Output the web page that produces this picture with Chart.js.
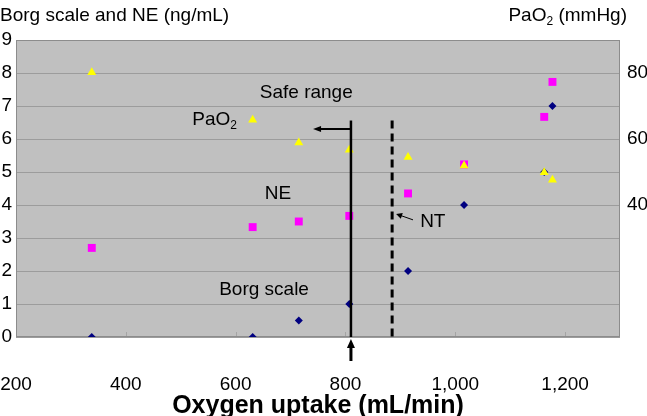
<!DOCTYPE html>
<html>
<head>
<meta charset="utf-8">
<script src="https://cdn.jsdelivr.net/npm/chart.js@4/dist/chart.umd.min.js"></script>
<style>
  html, body { margin: 0; padding: 0; background: #fff; }
  canvas { display: block; }
</style>
</head>
<body>
<canvas id="chart" width="647" height="416"></canvas>
<script>
// values
const oxygenUptake = [338, 631, 715, 807, 914, 1016, 1162, 1177];
const borgScale = [0, 0, 0.5, 1, 2, 4, 5, 7];
const noradrenaline = [2.7, 3.33, 3.5, 3.67, 4.35, 5.23, 6.67, 7.73];
const pao2 = [80.2, 65.8, 58.9, 56.7, 54.5, 51.9, 49.9, 47.6];

const xTicks = [200, 400, 600, 800, 1000, 1200];
const pao2Ticks = [40, 60, 80];

const safeRangeX = 810;
const ntX = 885;

const FONT = '"Liberation Sans", Arial, sans-serif';

const points = (ys) => oxygenUptake.map((x, i) => ({ x: x, y: ys[i] }));

function arrow(ctx, x1, y1, x2, y2, len, half, width) {
    const a = Math.atan2(y2 - y1, x2 - x1);
    ctx.save();
    ctx.lineWidth = width;
    ctx.beginPath();
    ctx.moveTo(x1, y1);
    ctx.lineTo(x2 - Math.cos(a) * len * 0.6, y2 - Math.sin(a) * len * 0.6);
    ctx.stroke();
    ctx.translate(x2, y2);
    ctx.rotate(a);
    ctx.beginPath();
    ctx.moveTo(0, 0);
    ctx.lineTo(-len, -half);
    ctx.lineTo(-len, half);
    ctx.closePath();
    ctx.fill();
    ctx.restore();
}

// text with a subscript part: [main, sub, rest]
function subText(ctx, parts, x, y, size, align) {
    ctx.save();
    ctx.textBaseline = 'middle';
    ctx.textAlign = 'left';
    ctx.font = size + 'px ' + FONT;
    const w1 = ctx.measureText(parts[0]).width;
    const w3 = ctx.measureText(parts[2]).width;
    ctx.font = Math.round(size * 0.62) + 'px ' + FONT;
    const w2 = ctx.measureText(parts[1]).width;
    let sx = align === 'right' ? x - (w1 + w2 + w3) : x;
    ctx.font = size + 'px ' + FONT;
    ctx.fillText(parts[0], sx, y);
    ctx.font = Math.round(size * 0.62) + 'px ' + FONT;
    ctx.fillText(parts[1], sx + w1, y + size * 0.32);
    ctx.font = size + 'px ' + FONT;
    ctx.fillText(parts[2], sx + w1 + w2, y);
    ctx.restore();
}

const plotArea = {
    id: 'plotArea',
    beforeDraw(chart) {
        const { ctx, chartArea: a } = chart;
        ctx.save();
        ctx.fillStyle = '#c0c0c0';
        ctx.fillRect(a.left, a.top, a.width, a.height);
        ctx.restore();
    },
    beforeDatasetsDraw(chart) {
        const { ctx, chartArea: a, scales } = chart;
        ctx.save();
        ctx.strokeStyle = '#a4a4a4';
        ctx.lineWidth = 1;
        xTicks.forEach(v => {
            const px = Math.round(scales.x.getPixelForValue(v)) + 0.5;
            ctx.beginPath();
            ctx.moveTo(px, a.bottom);
            ctx.lineTo(px, a.bottom - 5);
            ctx.stroke();
        });
        ctx.strokeStyle = '#8c8c8c';
        ctx.strokeRect(a.left + 0.5, a.top + 0.5, a.width - 1, a.height - 1);
        ctx.restore();
    },
    afterDraw(chart) {
        const { ctx, chartArea: a, scales } = chart;
        const x = scales.x, y = scales.y;
        ctx.save();
        ctx.fillStyle = '#000';
        ctx.strokeStyle = '#000';
        ctx.font = '19px ' + FONT;
        ctx.textBaseline = 'middle';

        // axis captions on top
        ctx.textAlign = 'left';
        ctx.fillText('Borg scale and NE (ng/mL)', 0, 16);
        subText(ctx, ['PaO', '2', ' (mmHg)'], 627, 16, 19, 'right');

        // safe range
        const sx = x.getPixelForValue(safeRangeX);
        const top = y.getPixelForValue(6.56);
        ctx.lineWidth = 2.5;
        ctx.beginPath();
        ctx.moveTo(sx, top);
        ctx.lineTo(sx, a.bottom);
        ctx.stroke();
        arrow(ctx, sx, y.getPixelForValue(6.3), x.getPixelForValue(741), y.getPixelForValue(6.3), 8, 3, 2);
        arrow(ctx, sx, a.bottom + 24, sx, a.bottom + 2, 9, 4, 3);

        // NT dashed line
        const nx = x.getPixelForValue(ntX);
        ctx.lineWidth = 3;
        ctx.setLineDash([8, 5]);
        ctx.beginPath();
        ctx.moveTo(nx, top);
        ctx.lineTo(nx, a.bottom);
        ctx.stroke();
        ctx.setLineDash([]);
        arrow(ctx, x.getPixelForValue(923), y.getPixelForValue(3.55), nx + 4, y.getPixelForValue(3.73), 6, 3, 1);

        // labels
        ctx.textAlign = 'left';
        ctx.fillText('Safe range', x.getPixelForValue(644), y.getPixelForValue(7.39));
        ctx.fillText('NE', x.getPixelForValue(653), y.getPixelForValue(4.33));
        ctx.fillText('Borg scale', x.getPixelForValue(570), y.getPixelForValue(1.42));
        ctx.fillText('NT', x.getPixelForValue(936), y.getPixelForValue(3.48));
        subText(ctx, ['PaO', '2', ''], x.getPixelForValue(521), y.getPixelForValue(6.58), 19, 'left');
        ctx.restore();
    }
};

new Chart(document.getElementById('chart').getContext('2d'), {
    type: 'scatter',
    data: {
        datasets: [
            {
                label: 'PaO2',
                data: points(pao2),
                yAxisID: 'y2',
                pointStyle: 'triangle',
                pointRadius: 5.2,
                backgroundColor: '#ffff00',
                borderColor: '#ffff00',
                borderWidth: 0,
                order: 0,
            },
            {
                label: 'NE',
                data: points(noradrenaline),
                yAxisID: 'y',
                pointStyle: 'rect',
                pointRadius: 5.6,
                backgroundColor: '#ff00ff',
                borderColor: '#ff00ff',
                borderWidth: 0,
                order: 1,
            },
            {
                label: 'Borg scale',
                data: points(borgScale),
                yAxisID: 'y',
                pointStyle: 'rectRot',
                pointRadius: 4,
                backgroundColor: '#000080',
                borderColor: '#000080',
                borderWidth: 0,
                order: 2,
            },
        ],
    },
    options: {
        responsive: false,
        animation: false,
        devicePixelRatio: 1,
        layout: { padding: { top: 40, left: 0, right: 0, bottom: 0 } },
        plugins: {
            legend: { display: false },
            tooltip: { enabled: false },
        },
        scales: {
            x: {
                type: 'linear',
                min: 200,
                max: 1300,
                afterBuildTicks: (s) => { s.ticks = xTicks.map(v => ({ value: v })); },
                afterFit: (s) => { s.height = 79; },
                grid: {
                    display: true,
                    drawOnChartArea: false,
                    drawTicks: true,
                    tickLength: 36,
                    color: 'rgba(0,0,0,0)',
                },
                border: { display: false },
                ticks: {
                    padding: 0,
                    color: '#000',
                    font: { family: FONT, size: 19 },
                    callback: (v) => v.toLocaleString('en-US'),
                },
                title: {
                    display: true,
                    text: 'Oxygen uptake (mL/min)',
                    color: '#000',
                    font: { family: FONT, size: 25, weight: 'bold', lineHeight: 1 },
                    padding: { top: 0, bottom: -3 },
                },
            },
            y: {
                position: 'left',
                min: 0,
                max: 9,
                ticks: {
                    stepSize: 1,
                    padding: 4,
                    color: '#000',
                    font: { family: FONT, size: 19 },
                },
                afterFit: (s) => { s.width = 16; },
                grid: { color: '#9c9c9c', drawTicks: false },
                border: { display: false },
            },
            y2: {
                position: 'right',
                min: 0,
                max: 90,
                afterBuildTicks: (s) => { s.ticks = pao2Ticks.map(v => ({ value: v })); },
                afterFit: (s) => { s.width = 27; },
                ticks: {
                    padding: 7,
                    color: '#000',
                    font: { family: FONT, size: 19 },
                },
                grid: { display: false, drawTicks: false },
                border: { display: false },
            },
        },
    },
    plugins: [plotArea],
});
</script>
</body>
</html>
